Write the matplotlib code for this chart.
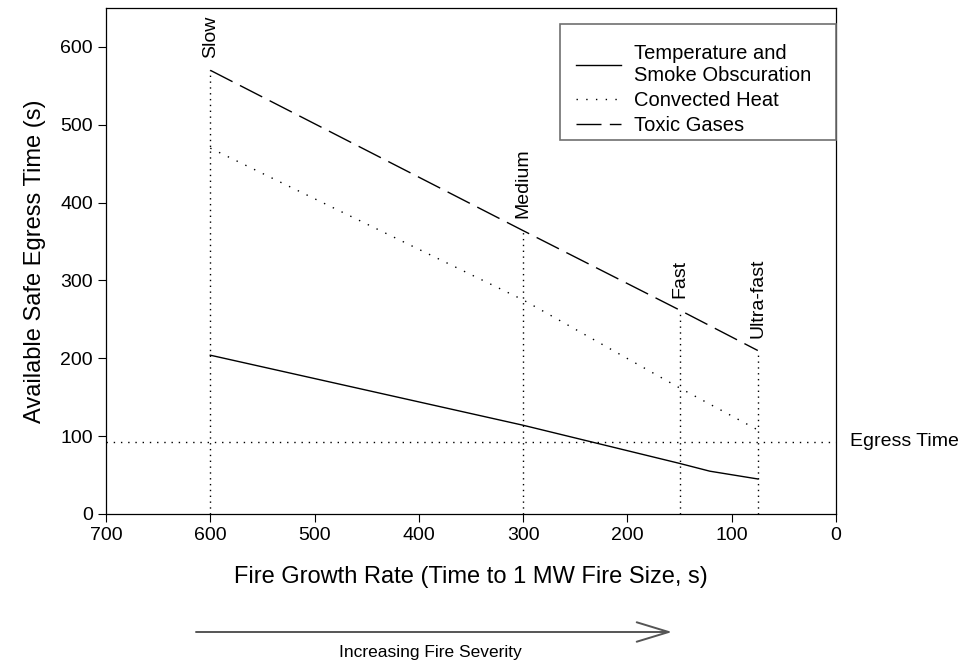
import matplotlib
matplotlib.use("Agg")
import matplotlib.pyplot as plt
from matplotlib.patches import FancyArrowPatch, Rectangle

plt.rcParams['font.family'] = ['Liberation Sans', 'DejaVu Sans']

# fire growth rate categories (time to 1 MW, s)
rates = [600, 300, 150, 75]
rate_names = ['Slow', 'Medium', 'Fast', 'Ultra-fast']

# available safe egress time (s)
temp_x = [600, 300, 150, 121, 75]
temp_smoke = [204, 114, 65, 55, 45]
convected = [470, 275, 162, 108]
toxic = [570, 364, 262, 210]
egress_time = 93

fig = plt.figure(figsize=(9.66, 6.64), dpi=100)
ax = fig.add_axes([106 / 966, 1 - 514 / 664, 730 / 966, 506 / 664])

ax.plot(temp_x, temp_smoke, color='black', lw=1.0, label='Temperature and\nSmoke Obscuration')
ax.plot(rates, convected, color='black', lw=1.0, dashes=(1, 6), label='Convected Heat')
ax.plot(rates, toxic, color='black', lw=1.0, dashes=(18, 6), label='Toxic Gases')

# vertical markers for each growth category
for r, t, name in zip(rates, toxic, rate_names):
    ax.plot([r, r], [0, t], color='black', lw=1.0, dashes=(1, 3.2))
    ax.annotate(name, xy=(r, t), xytext=(0, 9), textcoords='offset points',
                rotation=90, ha='center', va='bottom', fontsize=14)

ax.axhline(egress_time, color='black', lw=1.0, dashes=(1, 4.2))
ax.annotate('Egress Time', xy=(0, egress_time), xytext=(10, 0), textcoords='offset points',
            ha='left', va='center', fontsize=14, annotation_clip=False)

ax.set_xlim(700, 0)
ax.set_ylim(0, 650)
ax.set_xticks([700, 600, 500, 400, 300, 200, 100, 0])
ax.set_yticks([0, 100, 200, 300, 400, 500, 600])
ax.tick_params(direction='out', length=6, width=0.8, labelsize=14, top=False, right=False)
for s in ax.spines.values():
    s.set_linewidth(0.9)

ax.set_xlabel('Fire Growth Rate (Time to 1 MW Fire Size, s)', fontsize=17, labelpad=16)
ax.set_ylabel('Available Safe Egress Time (s)', fontsize=17, labelpad=10)

# legend box drawn separately so the text can sit like the original
ax.add_patch(Rectangle((560 / 966, 1 - 140 / 664), 276 / 966, 116 / 664,
                       transform=fig.transFigure, facecolor='white',
                       edgecolor='#707070', lw=1.2, zorder=3, clip_on=False))
leg = ax.legend(loc='upper left', bbox_to_anchor=((560 - 106) / 730, (514 - 28) / 506), fontsize=14.5,
                frameon=False, handlelength=2.25, handletextpad=0.6, labelspacing=0.3,
                borderpad=0.8, borderaxespad=0)
leg.set_zorder(5)

# severity arrow below the axis
fig.add_artist(FancyArrowPatch(
    (196 / 966, 1 - 632 / 664), (672 / 966, 1 - 632 / 664),
    transform=fig.transFigure, arrowstyle='->,head_length=23,head_width=7',
    mutation_scale=1, color='#555555', lw=1.4, shrinkA=0, shrinkB=0))
fig.text(430 / 966, 1 - 652 / 664, 'Increasing Fire Severity', ha='center', va='center', fontsize=12.5)

fig.savefig('out.png', dpi=100)
